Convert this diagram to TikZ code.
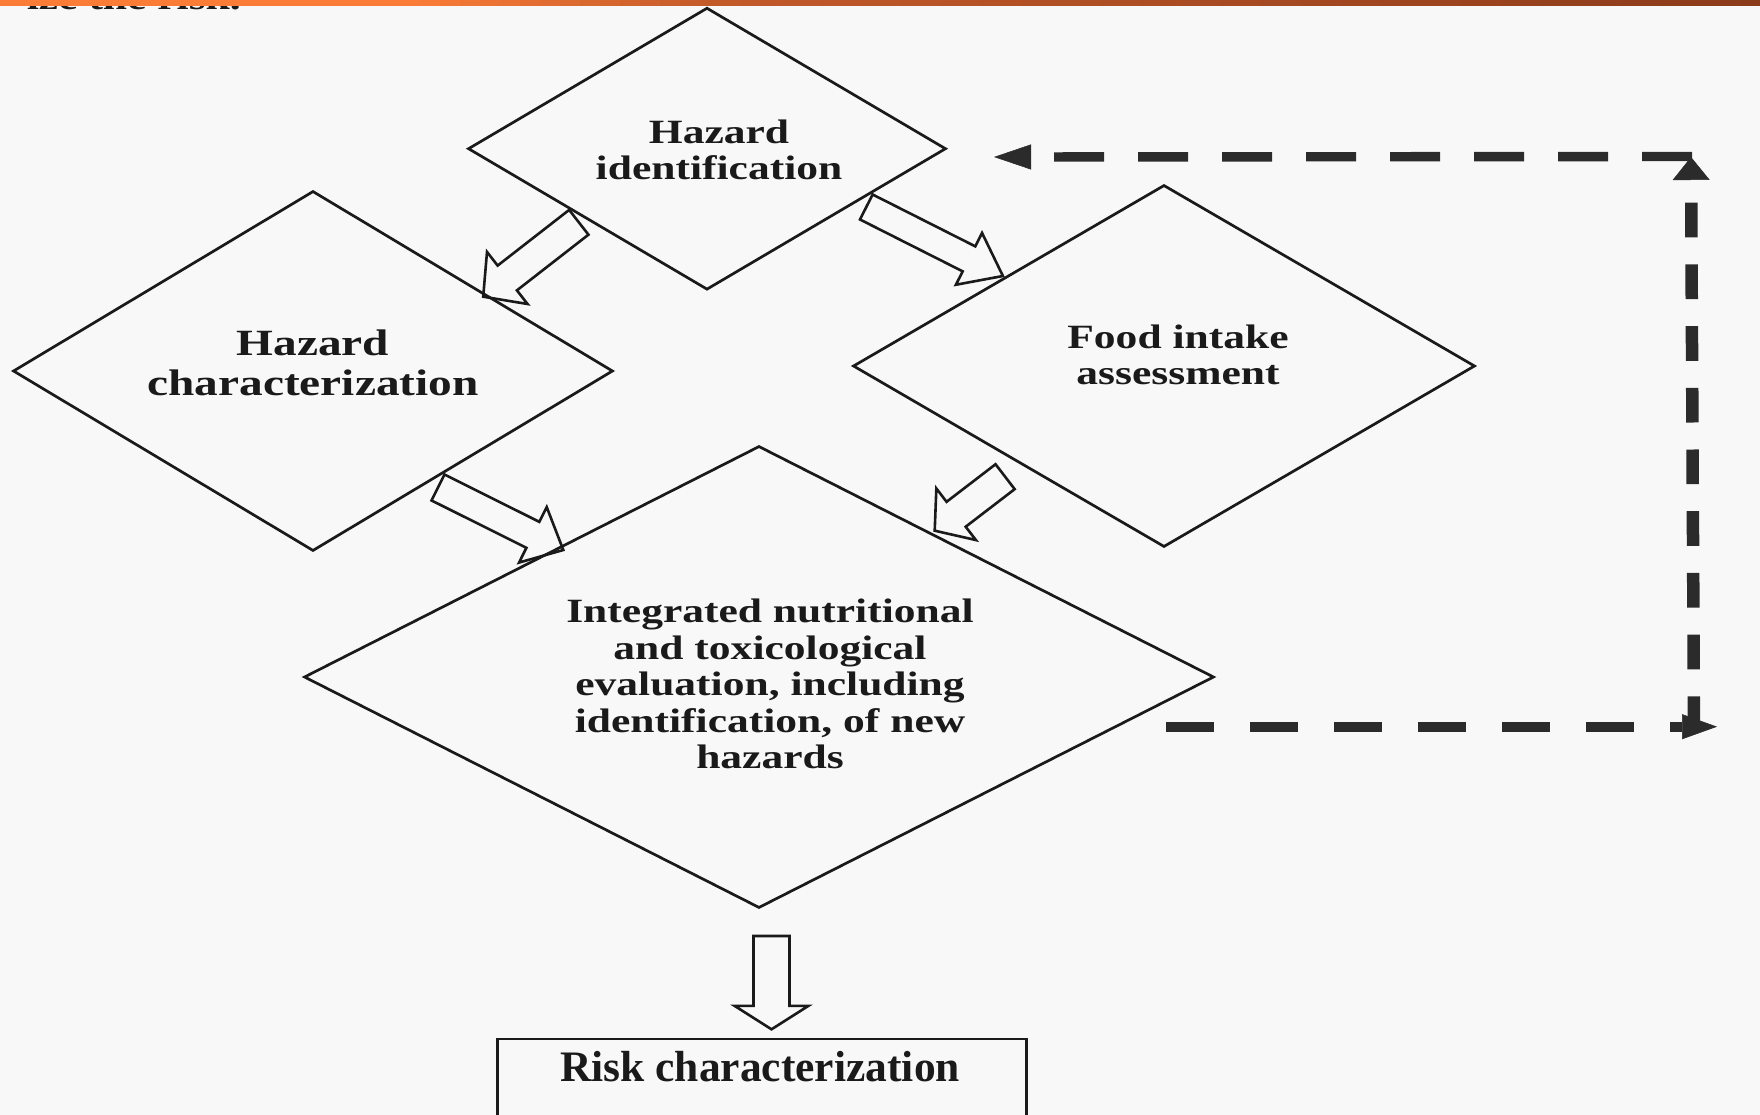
\documentclass[tikz,border=0pt]{standalone}
\usepackage{fontspec}
\setmainfont{Liberation Serif}
\newfontfamily\widefont{Liberation Serif}[FakeStretch=1.28]
\usetikzlibrary{shapes.geometric,calc,arrows.meta}
\definecolor{bg}{HTML}{F8F8F8}
\definecolor{barorange}{HTML}{FA7C37}
\definecolor{barmid}{HTML}{C35A2A}
\definecolor{barbrown}{HTML}{8A3A1A}
\definecolor{ink}{HTML}{1A1A1A}
\definecolor{dashink}{HTML}{2B2B2B}
\tikzset{
  dbox/.style={draw=ink, line width=2.7pt, diamond, inner sep=0pt},
  lbl/.style={inner sep=0pt, anchor=base, text=ink,
    font={\widefont\bfseries\fontsize{34pt}{36.5pt}\selectfont}},
  barrow/.style={draw=ink, line width=2.6pt, line join=miter},
  fb/.style={draw=dashink, line width=10pt, dash pattern=on 48pt off 36pt},
}
\newcommand\blockarrow[6]{%
  \coordinate (#1h) at ($(#3)!#6!(#2)$);
  \draw[barrow] ($(#2)!#4!90:(#3)$) -- ($(#1h)!#4!90:(#3)$) -- ($(#1h)!#5!90:(#3)$)
    -- (#3) -- ($(#1h)!#5!-90:(#3)$) -- ($(#1h)!#4!-90:(#3)$) -- ($(#2)!#4!-90:(#3)$) -- cycle;}
\begin{document}
\begin{tikzpicture}[x=1pt,y=-1pt]
\useasboundingbox (0,0) rectangle (1760,1115);
\clip (0,0) rectangle (1760,1115);
\fill[bg] (0,0) rectangle (1760,1115);
% fragment of page text above the figure
\node[lbl, anchor=base east] (frag) at (241,9.5) {ize the risk.};
% top bar
\fill[barorange] (0,0) rectangle (401,5.7);
\foreach \k in {0,...,67}{
  \pgfmathsetmacro\xa{400+20*\k}
  \pgfmathtruncatemacro\pa{min(100,max(0,(\xa-400)/3))}
  \pgfmathtruncatemacro\pb{min(100,max(0,(\xa-700)/10.6))}
  \fill[barbrown!\pb!barmid!\pa!barorange] (\xa,0) rectangle (\xa+21,5.7);
}

% diamonds
\node[dbox, minimum width=478pt, minimum height=282pt] (hi) at (707,148.7) {};
\node[dbox, minimum width=600pt, minimum height=360pt] (hc) at (313,371) {};
\node[dbox, minimum width=622pt, minimum height=362pt] (fi) at (1164,366) {};
\node[dbox, minimum width=910pt, minimum height=462pt] (ie) at (759,677) {};

% labels
\node[lbl] (hit) at (719,143.3) {\begin{tabular}[t]{@{}c@{}}Hazard\\identification\end{tabular}};
\node[lbl, font={\widefont\bfseries\fontsize{37pt}{40pt}\selectfont}] (hct) at (313,355) {\begin{tabular}[t]{@{}c@{}}Hazard\\characterization\end{tabular}};
\node[lbl] (fit) at (1178,348) {\begin{tabular}[t]{@{}c@{}}Food intake\\assessment\end{tabular}};
\node[lbl] (iet) at (770,622.5) {\begin{tabular}[t]{@{}c@{}}Integrated nutritional\\and toxicological\\evaluation, including\\identification, of new\\hazards\end{tabular}};

% risk characterization box
\node[draw=ink, line width=2.7pt, minimum width=529pt, minimum height=120pt, inner sep=0pt, anchor=north west] (rc) at (496,1037.5) {};
\node[inner sep=0pt, anchor=base, text=ink, font={\bfseries\fontsize{43.5pt}{48pt}\selectfont}] (rct) at (760,1081) {Risk characterization};

% hollow block arrows
\coordinate (a1s) at (578.8,222.3); \coordinate (a1e) at (483.2,296.7);
\coordinate (a2s) at (866.3,207);   \coordinate (a2e) at (1002.9,276);
\coordinate (a3s) at (438,487.5);   \coordinate (a3e) at (563.3,550);
\coordinate (a4s) at (1005.1,476.7);\coordinate (a4e) at (934.7,530.7);
\coordinate (a5s) at (771.5,936);   \coordinate (a5e) at (771.5,1029.3);
\blockarrow{a1}{a1s}{a1e}{15.7pt}{33pt}{30.5pt}
\blockarrow{a2}{a2s}{a2e}{14pt}{29pt}{38pt}
\blockarrow{a3}{a3s}{a3e}{14.5pt}{31pt}{34pt}
\blockarrow{a4}{a4s}{a4e}{15.7pt}{32.5pt}{27pt}
\blockarrow{a5}{a5s}{a5e}{18pt}{37pt}{23.5pt}

% dashed feedback loop
\coordinate (f1) at (1166,726.7);
\coordinate (f2) at (1717,726.7);
\coordinate (f3) at (1694,731);
\coordinate (f4) at (1691,157);
\coordinate (f5) at (1692,156.5);
\coordinate (f6) at (994,157);
\draw[fb, -{Triangle[length=35pt,width=25pt,line width=0.5pt]}] (f1) -- (f2);
\draw[fb, line width=12.5pt, dash pattern=on 34.7pt off 27pt, -{Triangle[length=23pt,width=37pt,line width=0.5pt]}] (f3) -- (f4);
\draw[fb, line width=9.4pt, dash pattern=on 50pt off 34pt, -{Triangle[length=37pt,width=25pt,line width=0.5pt]}] (f5) -- (f6);
\end{tikzpicture}
\end{document}
